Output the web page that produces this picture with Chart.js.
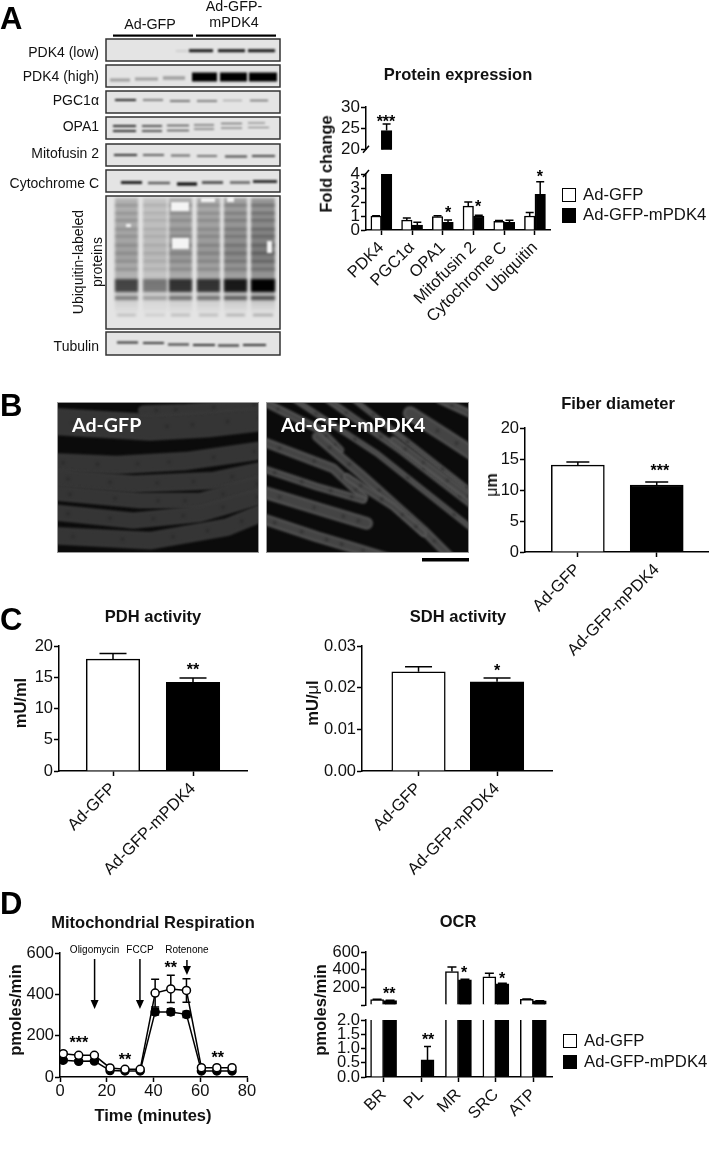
<!DOCTYPE html>
<html>
<head>
<meta charset="utf-8">
<script src="https://cdn.jsdelivr.net/npm/chart.js@4"></script>
<style>
  html, body { margin: 0; background: #fff; }
  #page { position: relative; width: 711px; height: 1150px; overflow: hidden; font-family: "Liberation Sans", Arial, sans-serif; color: #111; filter: blur(0.3px); }
  #page canvas { position: absolute; }
  .t { position: absolute; white-space: nowrap; line-height: 1; transform: translate(-50%, -50%); }
  .l { position: absolute; white-space: nowrap; line-height: 1; transform: translateY(-50%); }
  .swatch { position: absolute; box-sizing: border-box; border: 1.6px solid #000; }
</style>
</head>
<body>
<div id="page"><canvas id="pics" width="711" height="600" style="left:0;top:0"></canvas></div>
<script>
// ---- data ----
const proteinLabels = ["PDK4", "PGC1α", "OPA1", "Mitofusin 2", "Cytochrome C", "Ubiquitin"];
const proteinGfp = [1, 0.7, 0.95, 1.7, 0.62, 1.0];
const proteinGfpErr = [0.02, 0.15, 0.06, 0.3, 0.05, 0.25];
const proteinPdk = [24.5, 0.35, 0.55, 1.0, 0.55, 2.55];
const proteinPdkErr = [1.5, 0.2, 0.17, 0.05, 0.15, 0.9];

const groupLabels = ["Ad-GFP", "Ad-GFP-mPDK4"];
const fiberValues = [14.0, 10.8];
const fiberErr = [0.5, 0.5];
const pdhValues = [17.9, 14.2];
const pdhErr = [0.9, 0.7];
const sdhValues = [0.0238, 0.0214];
const sdhErr = [0.0012, 0.0009];

const respTime = [1.4, 8, 14.7, 21.4, 27.8, 34.3, 40.7, 47.4, 54.1, 60.5, 67.1, 73.6];
const respGfp = [113, 105, 105, 44, 37, 37, 406, 426, 419, 45, 45, 45];
const respGfpErr = [8, 8, 8, 6, 6, 6, 67, 66, 57, 6, 6, 6];
const respPdk = [81, 76, 77, 31, 29, 29, 315, 315, 303, 29, 29, 29];
const respPdkErr = [8, 8, 8, 5, 5, 5, 15, 15, 15, 5, 5, 5];

const ocrLabels = ["BR", "PL", "MR", "SRC", "ATP"];
const ocrGfp = [62, 0, 380, 320, 65];
const ocrGfpErr = [4, 0, 50, 40, 5];
const ocrPdk = [50, 0.6, 285, 240, 47];
const ocrPdkErr = [4, 0.47, 8, 8, 3];

// stars: text, x in axis units, y in axis units
const proteinTopStars = [["***", 0.15, 27.5]];
const proteinStars = [["*", 2.17, 1.5], ["*", 3.15, 1.93], ["*", 5.16, 4.1]];
const fiberStars = [["***", 1.04, 13.7]];
const pdhStars = [["**", 1, 16.8]];
const sdhStars = [["*", 1, 0.025]];
const respStars = [["***", 8.1, 184], ["**", 27.8, 102], ["**", 47.4, 547], ["**", 67.5, 111]];
const ocrTopStars = [["**", 0.15, 165], ["*", 2.15, 403], ["*", 3.17, 340]];
const ocrStars = [["**", 1.19, 1.44]];

const drugLabels = ["Oligomycin", "FCCP", "Rotenone"];
const drugTime = [14.8, 34.2, 54.3];
const drugTop = [571, 571, 566];
const drugTip = [329, 329, 493];
const drugLabelY = [614, 614, 614];

// ---- text helpers ----
const page = document.getElementById("page");
function text(str, cx, cy, size, bold, rot, color) {
  const d = document.createElement("div");
  d.className = "t";
  d.innerHTML = str;
  d.style.left = cx + "px";
  d.style.top = cy + "px";
  d.style.fontSize = size + "px";
  d.style.fontWeight = bold ? "700" : "400";
  if (rot) d.style.transform = "translate(-50%,-50%) rotate(" + rot + "deg)";
  if (color) d.style.color = color;
  page.appendChild(d);
  return d;
}
function leftText(str, x, cy, size, bold, color, family) {
  const d = text(str, x, cy, size, bold, 0, color);
  d.className = "l";
  if (family) d.style.fontFamily = family;
  return d;
}
function swatch(x, y, w, h, fill) {
  const d = document.createElement("div");
  d.className = "swatch";
  d.style.cssText = `left:${x}px;top:${y}px;width:${w}px;height:${h}px;background:${fill}`;
  page.appendChild(d);
}

// ---- chart helpers ----
Chart.defaults.font.family = '"Liberation Sans", Arial, sans-serif';
Chart.defaults.color = "#111";
Chart.defaults.animation = false;

function marks(m) {
  return {
    id: "marks",
    beforeDatasetsDraw(chart) {
      const { ctx, chartArea: a } = chart;
      ctx.save();
      ctx.beginPath();
      ctx.rect(a.left - 2, a.top - 1, a.right - a.left + 4, a.bottom - a.top + 1);
      ctx.clip();
      ctx.strokeStyle = "#000";
      ctx.lineWidth = 1.5;
      chart.data.datasets.forEach((ds, di) => {
        if (!ds.errs) return;
        const meta = chart.getDatasetMeta(di);
        ds.errs.forEach((e, i) => {
          const v = ds.data[i].y;
          if (!e || v === null) return;
          const x = meta.data[i].x;
          const y1 = chart.scales.y.getPixelForValue(v + e);
          const y0 = m.both ? chart.scales.y.getPixelForValue(v - e) : chart.scales.y.getPixelForValue(v);
          ctx.beginPath();
          ctx.moveTo(x, y0); ctx.lineTo(x, y1);
          ctx.moveTo(x - m.cap / 2, y1); ctx.lineTo(x + m.cap / 2, y1);
          if (m.both) { ctx.moveTo(x - m.cap / 2, y0); ctx.lineTo(x + m.cap / 2, y0); }
          ctx.stroke();
        });
      });
      ctx.restore();
    },
    afterDraw(chart) {
      const { ctx, chartArea: a, scales } = chart;
      ctx.save();
      ctx.fillStyle = "#000";
      ctx.strokeStyle = "#000";
      ctx.textAlign = "center";
      ctx.textBaseline = "alphabetic";
      ctx.font = 'bold 16px "Liberation Sans"';
      (m.stars || []).forEach(([s, x, y]) => {
        ctx.fillText(s, scales.x.getPixelForValue(x), scales.y.getPixelForValue(y) + 9);
      });
      if (m.slash) {
        ctx.lineWidth = 1.5;
        const y = m.slash === "top" ? a.top : a.bottom;
        ctx.beginPath();
        ctx.moveTo(a.left - 3, y + 3); ctx.lineTo(a.left + 3, y - 4);
        ctx.stroke();
      }
      if (m.arrows) {
        m.arrows.time.forEach((t, i) => {
          const x = scales.x.getPixelForValue(t);
          const y0 = scales.y.getPixelForValue(m.arrows.top[i]);
          const y1 = scales.y.getPixelForValue(m.arrows.tip[i]);
          ctx.lineWidth = 1.5;
          ctx.beginPath(); ctx.moveTo(x, y0); ctx.lineTo(x, y1 - 6); ctx.stroke();
          ctx.beginPath(); ctx.moveTo(x - 4, y1 - 9); ctx.lineTo(x + 4, y1 - 9); ctx.lineTo(x, y1); ctx.closePath(); ctx.fill();
          ctx.font = '10px "Liberation Sans"';
          ctx.fillText(m.arrows.labels[i], x, scales.y.getPixelForValue(m.arrows.labelY[i]) + 3);
        });
      }
      ctx.restore();
    },
  };
}

// plot rect is given in page pixels, the canvas is placed around it
function plot(r, config, m, xScale, yScale) {
  const c = document.createElement("canvas");
  const padTop = 12, padRight = r.padRight || 6, yW = r.yW || 50, xH = r.xH === undefined ? 110 : r.xH;
  const w = yW + (r.right - r.left) + padRight, h = padTop + (r.bottom - r.top) + xH;
  c.width = w; c.height = h;
  c.style.left = (r.left - yW) + "px";
  c.style.top = (r.top - padTop) + "px";
  page.appendChild(c);
  xScale.afterFit = (s) => { s.height = xH; };
  yScale.afterFit = (s) => { s.width = yW; };
  return new Chart(c, {
    ...config,
    plugins: [marks(m)],
    options: {
      responsive: false,
      devicePixelRatio: 1,
      layout: { autoPadding: false, padding: { top: padTop, right: padRight, left: 0, bottom: 0 } },
      plugins: { legend: { display: false }, tooltip: { enabled: false } },
      scales: { x: xScale, y: yScale },
    },
  });
}
const axisBorder = { color: "#000", width: 1.5 };
const axisGrid = { drawOnChartArea: false, color: "#000", tickLength: 5, tickWidth: 1.5, offset: false };
function yAxis(min, max, step, size, cb) {
  return {
    min, max, border: axisBorder, grid: axisGrid,
    ticks: { stepSize: step, autoSkip: false, color: "#111", font: { size }, padding: 1, callback: cb },
  };
}
function catAxis(labels, min, max, size) {
  return {
    type: "linear", min, max, offset: false, border: axisBorder, grid: axisGrid,
    afterBuildTicks: (s) => { s.ticks = labels.map((_, i) => ({ value: i })); },
    ticks: {
      autoSkip: false, minRotation: 45, maxRotation: 45, color: "#111", padding: 3,
      font: { size }, callback: (v) => labels[v],
    },
  };
}
// upper half of a broken axis: same x range, nothing drawn along the bottom
function hiddenX(min, max) {
  return {
    type: "linear", min, max, offset: false,
    border: { display: false }, grid: { display: false, offset: false }, ticks: { display: false },
  };
}
function pts(vals) { return vals.map((y, x) => ({ x, y })); }
function pair(a, aErr, b, bErr, thick) {
  return {
    type: "bar",
    data: {
      datasets: [
        { data: pts(a), errs: aErr, backgroundColor: "#fff", borderColor: "#000", borderWidth: 1.5, barThickness: thick },
        { data: pts(b), errs: bErr, backgroundColor: "#000", borderColor: "#000", borderWidth: 1.5, barThickness: thick },
      ],
    },
  };
}
function duo(vals, errs, thick) {
  return {
    type: "bar",
    data: {
      datasets: [{
        data: pts(vals), errs, backgroundColor: ["#fff", "#000"], borderColor: "#000", borderWidth: 1.5, barThickness: thick,
      }],
    },
  };
}

// ---- panel A charts ----
plot({ left: 366, right: 550, top: 107, bottom: 155, xH: 6 },
  pair(proteinGfp, proteinGfpErr, proteinPdk, proteinPdkErr, 10.5),
  { cap: 8, stars: proteinTopStars, slash: "bottom" },
  hiddenX(-0.5, 5.49), yAxis(20, 30, 5, 17));
plot({ left: 366, right: 550, top: 174, bottom: 230 },
  pair(proteinGfp, proteinGfpErr, proteinPdk, proteinPdkErr, 10.5),
  { cap: 8, stars: proteinStars, slash: "top" },
  catAxis(proteinLabels, -0.5, 5.49, 16.5), yAxis(0, 4, 1, 17));

// ---- panel B chart ----
plot({ left: 525, right: 708, top: 428, bottom: 552 },
  duo(fiberValues, fiberErr, 53),
  { cap: 23, stars: fiberStars },
  catAxis(groupLabels, -0.67, 1.65, 16.5), yAxis(0, 20, 5, 16.5));

// ---- panel C charts ----
plot({ left: 59, right: 247, top: 646, bottom: 771 },
  duo(pdhValues, pdhErr, 53.5),
  { cap: 27, stars: pdhStars },
  catAxis(groupLabels, -0.675, 1.675, 16.5), yAxis(0, 20, 5, 16.5));
plot({ left: 362, right: 552, top: 646, bottom: 771 },
  duo(sdhValues, sdhErr, 53.5),
  { cap: 27, stars: sdhStars },
  catAxis(groupLabels, -0.72, 1.7, 16.5), yAxis(0, 0.03, 0.01, 16.5, (v) => v.toFixed(2)));

// ---- panel D charts ----
plot({ left: 60, right: 247, top: 953, bottom: 1077, xH: 26, padRight: 16 },
  {
    type: "line",
    data: {
      datasets: [
        { data: respTime.map((x, i) => ({ x, y: respGfp[i] })), errs: respGfpErr, borderColor: "#000", borderWidth: 1.5, backgroundColor: "#fff", pointBackgroundColor: "#fff", pointBorderColor: "#000", pointBorderWidth: 1.5, pointRadius: 4, tension: 0 },
        { data: respTime.map((x, i) => ({ x, y: respPdk[i] })), errs: respPdkErr, borderColor: "#000", borderWidth: 1.5, backgroundColor: "#000", pointBackgroundColor: "#000", pointBorderColor: "#000", pointRadius: 4, tension: 0 },
      ],
    },
  },
  { cap: 8, both: true, stars: respStars, arrows: { time: drugTime, top: drugTop, tip: drugTip, labels: drugLabels, labelY: drugLabelY } },
  { type: "linear", min: 0, max: 80, border: axisBorder, grid: axisGrid, ticks: { stepSize: 20, color: "#111", font: { size: 16.5 }, padding: 0, maxRotation: 0, minRotation: 0 } },
  yAxis(0, 600, 200, 16.5));
plot({ left: 366, right: 552, top: 952, bottom: 1010, xH: 6 },
  pair(ocrGfp.map((v) => (v < 2 ? null : v)), ocrGfpErr, ocrPdk.map((v) => (v < 2 ? null : v)), ocrPdkErr, 13),
  { cap: 9, stars: ocrTopStars },
  hiddenX(-0.47, 4.5), yAxis(0, 600, 200, 16.5, (v) => (v === 0 ? "" : v)));
plot({ left: 366, right: 552, top: 1020, bottom: 1077, xH: 60 },
  pair(ocrGfp, ocrGfpErr.map((e, i) => (ocrGfp[i] < 2 ? e : 0)), ocrPdk, ocrPdkErr.map((e, i) => (ocrPdk[i] < 2 ? e : 0)), 13),
  { cap: 7, stars: ocrStars },
  catAxis(ocrLabels, -0.47, 4.5, 16.5), yAxis(0, 2, 0.5, 16.5, (v) => v.toFixed(1)));

// ---- titles, legends, letters ----
[["A", 18], ["B", 405], ["C", 619], ["D", 903]].forEach(([s, y]) => {
  leftText(s, 0, y, 31, true, "#000");
});
text("Protein expression", 458, 74, 16.5, true);
text("Fold change", 326, 164, 16.5, true, -90);
swatch(562, 188, 14, 14, "#fff"); swatch(562, 208, 14, 15, "#000");
leftText("Ad-GFP", 583, 195, 16.7); leftText("Ad-GFP-mPDK4", 583, 215, 16.7);
text("Fiber diameter", 618, 403, 16.5, true);
text('<span style="font-weight:400">μ</span>m', 492, 485, 16, true, -90);
text("PDH activity", 153, 616, 16.5, true);
text("SDH activity", 458, 616, 16.5, true);
text("mU/ml", 20, 703, 16.5, true, -90);
text('mU/<span style="font-weight:400">μ</span>l', 312, 703, 16.5, true, -90);
text("Mitochondrial Respiration", 153, 922, 16.5, true);
text("Time (minutes)", 153, 1115, 16.5, true);
text("pmoles/min", 15, 1010, 16.5, true, -90);
text("OCR", 458, 921, 16.5, true);
text("pmoles/min", 320, 1010, 16.5, true, -90);
swatch(563, 1034, 14, 14, "#fff"); swatch(563, 1055, 14, 14, "#000");
leftText("Ad-GFP", 584, 1041, 16.7); leftText("Ad-GFP-mPDK4", 584, 1062, 16.7);

// ---- blot labels ----
text("Ad-GFP", 150, 24, 14.3);
text("Ad-GFP-<br>mPDK4", 234, 14, 14.3).style.cssText += ";text-align:center;line-height:16px";
[["PDK4 (low)", 52], ["PDK4 (high)", 76], ["PGC1α", 100], ["OPA1", 126], ["Mitofusin 2", 153], ["Cytochrome C", 183], ["Tubulin", 346]].forEach(([s, y]) => {
  const d = leftText(s, 0, y, 14, false);
  d.style.left = "auto";
  d.style.right = (711 - 99) + "px";
});
text("Ubiquitin-labeled<br>proteins", 88, 262, 14, false, -90).style.cssText += ";text-align:center;line-height:19px";

// ---- western blot and micrograph pictures ----
const pic = document.getElementById("pics").getContext("2d");
const blotBoxes = [[39, 22], [65, 22], [91, 22], [117, 22], [144, 22], [170, 22], [196, 133], [332, 23]];
// x0, x1, y, thickness, darkness
const blotBands = [
  [189, 213, 50.7, 3, .9], [218, 245, 50.7, 3, .9], [248, 275, 50.7, 3, .9], [176, 188, 51, 1.5, .12],
  [110, 130, 80, 3, .3], [135, 158, 79, 3, .3], [163, 185, 78, 3.5, .3],
  [192, 217, 77, 9, 1], [220, 247, 77, 9, 1], [249, 277, 77, 9, 1],
  [115, 136, 100, 2, .85], [143, 163, 100, 1.6, .55], [170, 190, 101, 1.6, .6], [197, 217, 101, 1.6, .55], [223, 242, 100.5, 1.2, .3], [250, 268, 100.5, 1.5, .55],
  [113, 136, 126, 1.8, .9], [142, 162, 126, 1.6, .8], [167, 189, 125.5, 1.4, .7], [194, 214, 125, 1.2, .65], [221, 242, 123.5, 1.2, .6], [248, 265, 123, 1, .55],
  [113, 136, 131, 1.8, .9], [142, 162, 131, 1.6, .8], [167, 189, 130.5, 1.4, .7], [194, 214, 129, 1.2, .6], [221, 242, 128, 1.2, .55], [248, 269, 127.5, 1, .5],
  [114, 137, 155, 2, .8], [143, 164, 155, 1.8, .65], [171, 190, 155.5, 1.8, .6], [197, 217, 156, 1.8, .55], [225, 247, 156.5, 2, .7], [252, 275, 156, 2, .7],
  [121, 142, 182.5, 3, .85], [148, 170, 183, 2.4, .6], [177, 197, 184, 3.2, .95], [202, 223, 182.5, 2.6, .7], [230, 250, 182.5, 2.4, .6], [253, 277, 181.5, 2.8, .85],
  [117, 138, 342.5, 2, .8], [143, 164, 343, 2, .75], [168, 189, 344.5, 2, .75], [193, 215, 345, 2, .8], [218, 239, 345.5, 2, .8], [243, 266, 345, 2, .8],
];
const ubiLanes = [[115, 138, .7], [143, 167, .45], [169, 192, .8], [197, 220, .8], [224, 247, .95], [251, 275, 1.1]];
const ubiStripes = [204, 212, 219, 228, 235, 244, 252, 260, 268];
// x, y, w, h
const ubiHoles = [[171, 202, 18, 9], [172, 238, 17, 11], [201, 198, 14, 4], [227, 197, 7, 5], [267, 241, 5, 12], [126, 224, 5, 3]];

blotBoxes.forEach(([y, h]) => {
  pic.fillStyle = "#e4e4e4";
  pic.fillRect(106, y, 174, h);
});
pic.filter = "blur(1px)";
blotBands.forEach(([x0, x1, y, t, d]) => {
  pic.fillStyle = `rgba(0,0,0,${d})`;
  pic.fillRect(x0, y - t / 2, x1 - x0, t);
});
pic.filter = "blur(1.6px)";
ubiLanes.forEach(([x0, x1, k]) => {
  const g = pic.createLinearGradient(0, 197, 0, 312);
  g.addColorStop(0, `rgba(0,0,0,${.3 * k})`);
  g.addColorStop(.5, `rgba(0,0,0,${.42 * k})`);
  g.addColorStop(.75, `rgba(0,0,0,${.28 * k})`);
  g.addColorStop(1, "rgba(0,0,0,0.02)");
  pic.fillStyle = g;
  pic.fillRect(x0, 198, x1 - x0, 114);
  pic.fillStyle = `rgba(0,0,0,${.25 * k})`;
  ubiStripes.forEach((y) => pic.fillRect(x0, y, x1 - x0, 2.5));
  pic.fillStyle = `rgba(0,0,0,${.9 * k})`;
  pic.fillRect(x0, 279, x1 - x0, 13);
  pic.fillStyle = `rgba(0,0,0,${.55 * k})`;
  pic.fillRect(x0, 296, x1 - x0, 4);
  pic.fillStyle = `rgba(0,0,0,${.3 * k})`;
  pic.fillRect(x0 + 2, 314, x1 - x0 - 4, 2);
});
pic.filter = "blur(1px)";
pic.fillStyle = "#f4f4f4";
ubiHoles.forEach(([x, y, w, h]) => pic.fillRect(x, y, w, h));
pic.filter = "none";
pic.strokeStyle = "#333";
pic.lineWidth = 1.5;
blotBoxes.forEach(([y, h]) => pic.strokeRect(106, y, 174, h));
pic.fillStyle = "#000";
pic.fillRect(113, 34.5, 80, 2.2);
pic.fillRect(196, 34.5, 80, 2.2);

// fibers: width, then x,y points, in 3x figure coordinates
const fibersLeft = [
  [78, 120, 122, 450, 142, 620, 132, 830, 108],
  [30, 430, 92, 560, 88, 830, 68],
  [52, 120, 245, 350, 255, 560, 243, 830, 205],
  [50, 120, 290, 400, 312, 640, 302, 830, 262],
  [44, 120, 335, 420, 362, 600, 362, 830, 295],
  [46, 120, 393, 400, 422, 600, 402, 830, 335],
  [50, 120, 465, 450, 482, 680, 442, 830, 380],
];
const fibersRight = [
  [22, 780, 60, 960, 150, 1020, 210],
  [15, 870, 50, 1130, 220, 1440, 465],
  [18, 970, 50, 1200, 210, 1440, 395],
  [14, 1050, 50, 1280, 230, 1440, 355],
  [40, 1230, 100, 1340, 170, 1440, 235],
  [22, 1320, 60, 1440, 115],
  [26, 770, 178, 1000, 265, 1090, 350],
  [25, 950, 170, 1080, 280, 1270, 450, 1380, 560],
  [20, 1180, 180, 1300, 270, 1440, 375],
  [20, 1040, 290, 1180, 380, 1270, 460],
  [35, 770, 330, 1000, 400, 1100, 430],
  [30, 770, 410, 950, 470, 1050, 500, 1180, 540],
  [20, 770, 260, 950, 320, 1090, 360],
];
function fiberPath(f) {
  pic.beginPath();
  for (let i = 1; i < f.length; i += 2) {
    const px = f[i] / 3, py = 380 + f[i + 1] / 3;
    if (i === 1) pic.moveTo(px, py); else pic.lineTo(px, py);
  }
}
function micrograph(x0, x1, fibers, edge, shade, label, lx) {
  const y0 = 402, y1 = 553;
  pic.save();
  pic.beginPath(); pic.rect(x0, y0, x1 - x0, y1 - y0); pic.clip();
  pic.fillStyle = "#0b0b0b";
  pic.fillRect(x0, y0, x1 - x0, y1 - y0);
  pic.filter = "blur(1.4px)";
  pic.lineCap = "round";
  pic.lineJoin = "round";
  fibers.forEach((f) => {
    pic.strokeStyle = edge;
    pic.lineWidth = f[0] / 3;
    fiberPath(f);
    pic.stroke();
    pic.strokeStyle = shade;
    pic.lineWidth = f[0] / 3 - 2;
    fiberPath(f);
    pic.stroke();
    // dark nuclei along the middle of each fiber
    pic.fillStyle = "#222";
    for (let i = 1; i < f.length - 2; i += 2) {
      for (let k = 0.3; k < 1; k += 0.45) {
        const px = (f[i] + (f[i + 2] - f[i]) * k) / 3, py = 380 + (f[i + 1] + (f[i + 3] - f[i + 1]) * k) / 3;
        pic.beginPath(); pic.arc(px, py, 1.3, 0, 7); pic.fill();
      }
    }
  });
  pic.restore();
  pic.strokeStyle = "#999";
  pic.lineWidth = 1;
  pic.strokeRect(x0 + .5, y0 + .5, x1 - x0 - 1, y1 - y0 - 1);
  leftText(label, lx, 425, 19.6, true, "#fff", "Lato");
}
micrograph(57, 259, fibersLeft, "#3c3c3c", "#353535", "Ad-GFP", 72);
micrograph(266, 469, fibersRight, "#626262", "#444444", "Ad-GFP-mPDK4", 281);
pic.fillStyle = "#000";
pic.fillRect(422, 558, 47, 3.5);
</script>
</body>
</html>
